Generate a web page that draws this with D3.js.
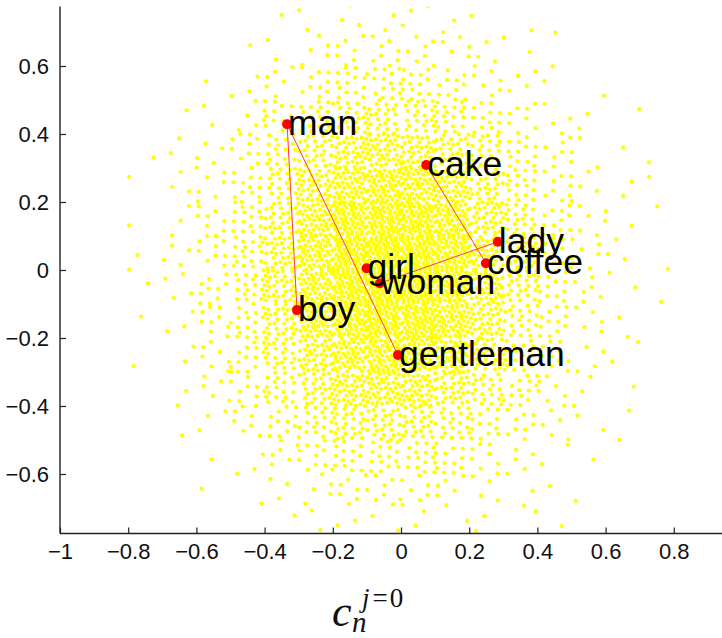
<!DOCTYPE html>
<html>
<head>
<meta charset="utf-8">
<script src="https://cdn.jsdelivr.net/npm/d3@7"></script>
<style>
  body { margin: 0; background: #fff; }
  svg { display: block; }
</style>
</head>
<body>
<svg id="chart" width="722" height="638"></svg>
<script>
// ---- data ----
const xTicks = [-1, -0.8, -0.6, -0.4, -0.2, 0, 0.2, 0.4, 0.6, 0.8];
const yTicks = [-0.6, -0.4, -0.2, 0, 0.2, 0.4, 0.6];

const words = ["man", "cake", "lady", "coffee", "girl", "woman", "boy", "gentleman"];
const wordX = [-0.334, 0.074, 0.284, 0.249, -0.101, -0.062, -0.305, -0.009];
const wordY = [0.429, 0.309, 0.083, 0.020, 0.005, -0.039, -0.118, -0.250];

const links = [["man", "boy"], ["man", "gentleman"], ["cake", "coffee"], ["lady", "woman"]];

// background vectors: number of points per 0.1 x 0.1 cell
const cellX0 = [-0.9, -0.8, -0.7, -0.6, -0.5, -0.4, -0.3, -0.2, -0.1, 0.0, 0.1, 0.2, 0.3, 0.4, 0.5, 0.6, 0.7];
const cellY0 = [0.7, 0.6, 0.5, 0.4, 0.3, 0.2, 0.1, 0.0, -0.1, -0.2, -0.3, -0.4, -0.5, -0.6, -0.7, -0.8];
const cellCounts = [
  [0, 0, 0, 0, 0, 1, 2, 3, 3, 3, 2, 1, 1, 0, 0, 0, 0],
  [0, 0, 0, 0, 1, 2, 5, 7, 8, 7, 6, 3, 2, 1, 0, 0, 0],
  [0, 0, 0, 1, 3, 6, 10, 14, 15, 14, 11, 7, 4, 2, 1, 0, 0],
  [0, 0, 1, 2, 6, 11, 18, 24, 26, 24, 19, 13, 8, 4, 2, 1, 0],
  [0, 1, 2, 5, 10, 18, 29, 38, 42, 40, 32, 22, 13, 7, 3, 1, 1],
  [0, 1, 3, 6, 13, 24, 38, 52, 58, 55, 45, 30, 18, 9, 4, 2, 1],
  [0, 1, 3, 8, 16, 30, 50, 68, 74, 72, 58, 38, 22, 12, 5, 2, 1],
  [0, 2, 4, 10, 19, 35, 56, 76, 84, 82, 64, 43, 26, 14, 6, 3, 1],
  [0, 1, 4, 10, 19, 35, 56, 76, 84, 82, 64, 43, 26, 14, 6, 2, 1],
  [0, 1, 3, 9, 17, 31, 51, 68, 76, 73, 58, 38, 22, 12, 5, 2, 0],
  [0, 1, 2, 7, 13, 25, 40, 54, 60, 57, 46, 30, 18, 10, 4, 2, 0],
  [0, 0, 2, 5, 10, 19, 30, 42, 47, 44, 35, 23, 14, 7, 3, 1, 0],
  [0, 0, 1, 3, 7, 12, 19, 26, 29, 27, 21, 14, 9, 5, 2, 1, 0],
  [0, 0, 0, 1, 3, 6, 11, 14, 16, 15, 12, 8, 5, 2, 1, 1, 0],
  [0, 0, 0, 1, 1, 3, 5, 7, 8, 7, 6, 4, 2, 1, 1, 0, 0],
  [0, 0, 0, 0, 0, 1, 2, 3, 3, 3, 2, 2, 1, 1, 0, 0, 0]
];
const cellSize = 0.1;

// ---- layout ----
const svg = d3.select("#chart");
const x = d3.scaleLinear().domain([-1, 1]).range([60, 742]);
const y = d3.scaleLinear().domain([-0.775, 0.775]).range([533.5, 6.5]);

const plotLeft = x(-1), plotTop = y(0.775), plotBottom = y(-0.775);

svg.append("defs").append("clipPath").attr("id", "plot-clip")
  .append("rect")
  .attr("x", plotLeft).attr("y", plotTop)
  .attr("width", 742 - plotLeft).attr("height", plotBottom - plotTop);

// spread each cell's points with an R2 low-discrepancy sequence
const cloud = [];
let g = 0;
cellCounts.forEach((row, r) => {
  row.forEach((n, c) => {
    for (let k = 0; k < n; k++, g++) {
      const u = (0.5 + g * 0.7548776662466927) % 1;
      const v = (0.5 + g * 0.5698402909980532) % 1;
      cloud.push([cellX0[c] + u * cellSize, cellY0[r] + v * cellSize]);
    }
  });
});

const plot = svg.append("g").attr("clip-path", "url(#plot-clip)");

plot.append("g").selectAll("circle").data(cloud).join("circle")
  .attr("cx", d => x(d[0]))
  .attr("cy", d => y(d[1]))
  .attr("r", 2.1)
  .attr("fill", "#ffff00");

const idx = Object.fromEntries(words.map((w, i) => [w, i]));

plot.append("g").selectAll("line").data(links).join("line")
  .attr("x1", d => x(wordX[idx[d[0]]]))
  .attr("y1", d => y(wordY[idx[d[0]]]))
  .attr("x2", d => x(wordX[idx[d[1]]]))
  .attr("y2", d => y(wordY[idx[d[1]]]))
  .attr("stroke", "#ff3a3a")
  .attr("stroke-width", 1);

plot.append("g").selectAll("circle").data(words).join("circle")
  .attr("cx", (d, i) => x(wordX[i]))
  .attr("cy", (d, i) => y(wordY[i]))
  .attr("r", 5)
  .attr("fill", "#ff0000");

plot.append("g").selectAll("text").data(words).join("text")
  .attr("x", (d, i) => x(wordX[i]) + 1)
  .attr("y", (d, i) => y(wordY[i]) + 11)
  .attr("font-family", "Liberation Sans, Arial, sans-serif")
  .attr("font-size", 35.5)
  .attr("fill", "#000")
  .text(d => d);

// ---- axes ----
const fmt = v => (v < 0 ? "\u2212" : "") + d3.format("")(Math.abs(v));

const xAxis = svg.append("g")
  .attr("transform", `translate(0,${plotBottom})`)
  .call(d3.axisBottom(x).tickValues(xTicks).tickSizeInner(-6).tickSizeOuter(0).tickPadding(10).tickFormat(fmt));

const yAxis = svg.append("g")
  .attr("transform", `translate(${plotLeft},0)`)
  .call(d3.axisLeft(y).tickValues(yTicks).tickSizeInner(-6).tickSizeOuter(0).tickPadding(11).tickFormat(fmt));

[xAxis, yAxis].forEach(a => {
  a.select(".domain").attr("stroke", "#222").attr("stroke-width", 1.4);
  a.selectAll(".tick line").attr("stroke", "#222").attr("stroke-width", 1.2);
  a.selectAll(".tick text")
    .attr("font-family", "Liberation Sans, Arial, sans-serif")
    .attr("font-size", 22)
    .attr("fill", "#111");
});
yAxis.select(".domain").attr("d", `M0,${plotTop}V${plotBottom}`);
xAxis.select(".domain").attr("d", `M${plotLeft},0H742`);

// ---- x label: c_n^{j=0} ----
const label = svg.append("text")
  .attr("x", 332).attr("y", 626)
  .attr("font-family", "Liberation Serif, DejaVu Serif, serif")
  .attr("fill", "#111");
label.append("tspan")
  .attr("font-size", 44).attr("font-style", "italic")
  .text("c");
label.append("tspan")
  .attr("x", 352).attr("y", 632)
  .attr("font-size", 29).attr("font-style", "italic")
  .text("n");
label.append("tspan")
  .attr("x", 362).attr("y", 607)
  .attr("font-size", 27).attr("font-style", "italic")
  .text("j");
label.append("tspan")
  .attr("dx", 3)
  .attr("font-size", 27)
  .text("=");
label.append("tspan")
  .attr("dx", 2)
  .attr("font-size", 27)
  .text("0");
</script>
</body>
</html>
